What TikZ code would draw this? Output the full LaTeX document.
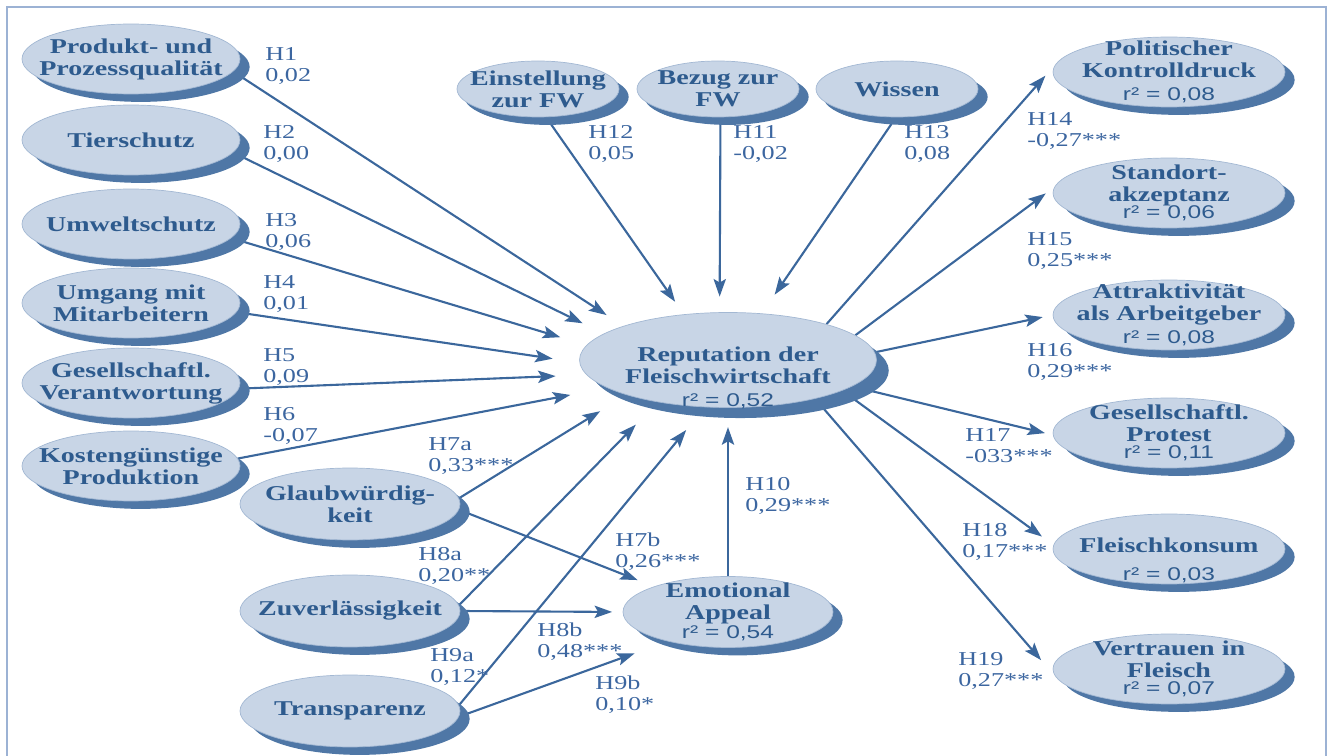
\documentclass[tikz,border=0pt]{standalone}
\usepackage{fontspec}
\usetikzlibrary{shapes.geometric,shadows,arrows.meta,backgrounds}
\newfontfamily\dgserif{Liberation Serif}[FakeStretch=1.33]
\newfontfamily\dgsans{Liberation Sans}[FakeStretch=1.33]
\definecolor{cfill}{HTML}{C8D5E6}
\definecolor{cline}{HTML}{3B679C}
\definecolor{cshade}{HTML}{4F77A6}
\definecolor{ctext}{HTML}{2E5B8E}
\definecolor{clabel}{HTML}{3C66A0}
\definecolor{cedge}{HTML}{A3B8D3}
\definecolor{cframe}{HTML}{9CB2D4}
\newcommand{\rsq}[1]{{\dgsans\mdseries\fontsize{10.5}{12.5}\selectfont r² = #1}}

\begin{document}
\begin{tikzpicture}[x=0.02cm,y=-0.02cm,
  construct/.style={ellipse,draw=cedge,line width=0.4pt,fill=cfill,text=ctext,
    font={\dgserif\bfseries\fontsize{12}{12.5}\selectfont},align=center,
    inner xsep=-15pt,inner ysep=-15pt,minimum width=4.36cm,minimum height=1.4cm,
    drop shadow={shadow xshift=5.5pt,shadow yshift=-4.5pt,fill=cshade,opacity=1}},
  mid/.style={construct,minimum width=4.4cm,minimum height=1.44cm},
  topc/.style={construct,minimum width=3.24cm,minimum height=1.12cm,
    drop shadow={shadow xshift=4pt,shadow yshift=-4pt,fill=cshade,opacity=1}},
  outc/.style={construct,minimum width=4.64cm,minimum height=1.4cm},
  central/.style={construct,minimum width=5.94cm,minimum height=1.9cm,inner ysep=-20pt,
    drop shadow={shadow xshift=7pt,shadow yshift=-6pt,fill=cshade,opacity=1}},
  hyp/.style={anchor=north west,inner sep=0pt,align=left,text=clabel,
    font={\dgserif\fontsize{11.2}{12}\selectfont}},
  effect/.style={draw=cline,line width=1.2pt,-{Stealth[length=10pt,width=7pt,inset=2pt]}}]
  \useasboundingbox (0,0) rectangle (1330,756);
  \draw[cframe,line width=0.8pt] (7,756) -- (7,7) -- (1326,7) -- (1326,756);

  \node[construct] (prod) at (131,59) {Produkt- und\\Prozessqualität};
  \node[construct] (tier) at (131,140) {Tierschutz};
  \node[construct] (umwelt) at (131,224) {Umweltschutz};
  \node[construct] (umgang) at (131,303) {Umgang mit\\Mitarbeitern};
  \node[construct] (verant) at (131,383) {Gesellschaftl.\\Verantwortung};
  \node[construct] (kosten) at (131,466) {Kostengünstige\\Produktion};
  \node[mid] (glaub) at (350,504) {Glaubwürdig-\\keit};
  \node[mid] (zuver) at (350,611) {Zuverlässigkeit};
  \node[mid] (transp) at (350,711) {Transparenz};

  \node[topc] (einst) at (538,89) {Einstellung\\zur FW};
  \node[topc] (bezug) at (718,89) {Bezug zur\\FW};
  \node[topc] (wissen) at (897,89) {Wissen};

  \node[central] (rep) at (728,360) {\rule{0pt}{28.5pt}Reputation der\\Fleischwirtschaft\\[0.5pt]\rsq{0,52}};
  \node[construct,minimum width=4.2cm,minimum height=1.42cm] (emo) at (728,612) {Emotional\\Appeal\\[-1.5pt]\rsq{0,54}};

  \node[outc] (pol) at (1169,72) {Politischer\\Kontrolldruck\\[0.6pt]\rsq{0,08}};
  \node[outc] (stand) at (1169,193) {Standort-\\akzeptanz\\[-3pt]\rsq{0,06}};
  \node[outc] (attr) at (1169,315) {Attraktivität\\als Arbeitgeber\\[0.5pt]\rsq{0,08}};
  \node[outc] (prot) at (1169,433) {Gesellschaftl.\\Protest\\[-3pt]\rsq{0,11}};
  \node[outc] (konsum) at (1169,549) {\rule{0pt}{21pt}Fleischkonsum\\[3.5pt]\rsq{0,03}};
  \node[outc] (vertr) at (1169,669) {Vertrauen in\\Fleisch\\[-3pt]\rsq{0,07}};

  \begin{scope}[on background layer]
    \draw[effect,shorten >=11.4pt] (prod.-7) -- (rep.162);
    \draw[effect,shorten >=13.4pt] (tier.-7) -- (rep.168);
    \draw[effect,shorten >=15.6pt] (umwelt.-8) -- (rep.174);
    \draw[effect,shorten >=15.4pt] (umgang.-5) -- (rep.181);
    \draw[effect,shorten >=17.6pt] (verant.-3) -- (rep.186);
    \draw[effect,shorten >=21.3pt] (kosten.4) -- (rep.193);
    \draw[effect,shorten >=17.6pt] (glaub.3) -- (rep.199);
    \draw[effect,shorten >=10pt] (glaub.-3) -- (emo.161);
    \draw[effect,shorten >=17.9pt] (zuver.3) -- (rep.211);
    \draw[effect,shorten >=6pt] (zuver.0) -- (emo.180);
    \draw[effect,shorten >=16.8pt] (transp.3) -- (rep.244);
    \draw[effect,shorten >=20pt] (transp.-3) -- (emo.206);
    \draw[effect,shorten >=11pt] (emo.90) -- (rep.-90);
    \draw[effect,shorten >=8.7pt] (einst.-74) -- (rep.134);
    \draw[effect,shorten >=8.9pt] (bezug.-85) -- (rep.100);
    \draw[effect,shorten >=12.9pt] (wissen.-92) -- (rep.54);
    \draw[effect,shorten >=8.8pt] (rep.20) -- (pol.176);
    \draw[effect,shorten >=6.1pt] (rep.11) -- (stand.177);
    \draw[effect,shorten >=5.8pt] (rep.3) -- (attr.180);
    \draw[effect,shorten >=4.6pt] (rep.-12) -- (prot.181);
    \draw[effect,shorten >=8.1pt] (rep.-15) -- (konsum.178);
    \draw[effect,shorten >=14pt] (rep.-24) -- (vertr.185);
  \end{scope}

  \node[hyp] (h1) at (265,47) {H1\\0,02};
  \node[hyp] (h2) at (263,125) {H2\\0,00};
  \node[hyp] (h3) at (265,213) {H3\\0,06};
  \node[hyp] (h4) at (263,275) {H4\\0,01};
  \node[hyp] (h5) at (263,348) {H5\\0,09};
  \node[hyp] (h6) at (263,407) {H6\\-0,07};
  \node[hyp] (h7a) at (428,437) {H7a\\0,33***};
  \node[hyp] (h8a) at (418,547) {H8a\\0,20**};
  \node[hyp] (h9a) at (430,648) {H9a\\0,12*};
  \node[hyp] (h7b) at (615,532) {H7b\\0,26***};
  \node[hyp] (h8b) at (537,622) {H8b\\0,48***};
  \node[hyp] (h9b) at (595,675) {H9b\\0,10*};
  \node[hyp] (h10) at (745,477) {H10\\0,29***};
  \node[hyp] (h12) at (588,125) {H12\\0,05};
  \node[hyp] (h11) at (733,125) {H11\\-0,02};
  \node[hyp] (h13) at (904,125) {H13\\0,08};
  \node[hyp] (h14) at (1027,112) {H14\\-0,27***};
  \node[hyp] (h15) at (1027,232) {H15\\0,25***};
  \node[hyp] (h16) at (1027,343) {H16\\0,29***};
  \node[hyp] (h17) at (965,428) {H17\\-033***};
  \node[hyp] (h18) at (962,523) {H18\\0,17***};
  \node[hyp] (h19) at (958,652) {H19\\0,27***};
\end{tikzpicture}
\end{document}
